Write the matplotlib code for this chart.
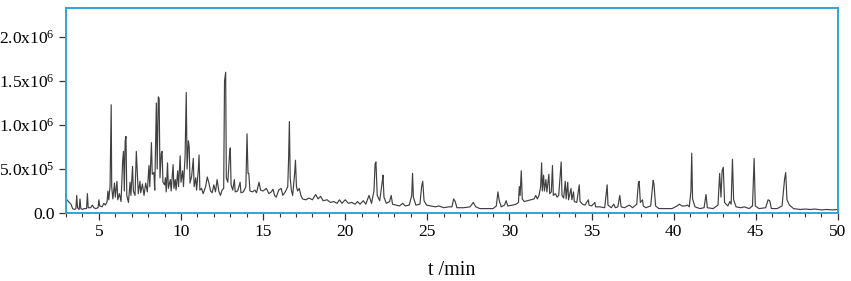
import numpy as np
import matplotlib
matplotlib.use('Agg')
import matplotlib.pyplot as plt

plt.rcParams['font.family'] = ['Liberation Serif', 'DejaVu Serif']
plt.rcParams['mathtext.fontset'] = 'custom'
plt.rcParams['mathtext.rm'] = 'Liberation Serif'
plt.rcParams['mathtext.default'] = 'rm'

# chromatogram trace: (t in min, signal in 1e5 counts)
early = [(3.0,1.6),(3.1,1.4),(3.2,1.2),(3.3,1.0),(3.4,0.5),(3.5,0.4),(3.6,0.5),(3.65,2.0),(3.7,0.6),
         (3.8,0.4),(3.85,1.6),(3.9,0.5),(4.0,0.4),(4.1,0.5),(4.25,0.5),(4.3,2.2),(4.35,0.6),(4.5,0.6),
         (4.6,0.9),(4.7,0.6),(4.8,0.5),(4.95,0.6),(5.0,1.5),(5.05,0.8),(5.2,0.7),(5.3,1.1),(5.4,0.9),
         (5.5,1.3)]

hump = [(5.55,2.5),(5.6,1.5),(5.68,3.0),(5.72,8.0),(5.75,12.3),(5.78,3.0),(5.85,1.6),(5.95,3.4),
        (6.0,1.8),(6.1,3.6),(6.15,1.5),(6.25,2.2),(6.35,1.3),(6.45,6.0),(6.5,7.0),(6.55,2.5),(6.6,8.2),
        (6.65,8.7),(6.7,2.0),(6.8,1.2),(6.9,3.5),(6.95,2.0),(7.05,5.3),(7.1,2.5),(7.2,2.0),(7.28,7.0),
        (7.33,5.0),(7.4,2.2),(7.5,3.6),(7.55,2.3),(7.65,3.3),(7.75,2.0),(7.85,3.4),(7.95,2.4),(8.05,5.4),
        (8.1,3.0),(8.2,8.0),(8.25,4.4),(8.35,4.6),(8.4,2.6),(8.5,12.5),(8.55,5.0),(8.62,13.2),(8.67,13.0),
        (8.72,4.0),(8.8,6.8),(8.85,7.0),(8.9,3.5),(9.0,3.2),(9.05,4.0),(9.1,2.4),(9.18,5.7),(9.23,2.8),
        (9.35,3.8),(9.4,2.5),(9.52,5.5),(9.57,2.8),(9.65,3.8),(9.7,2.6),(9.8,4.8),(9.85,3.0),(9.95,6.5),
        (10.0,3.5),(10.1,4.8),(10.15,3.0),(10.25,6.5),(10.32,13.7),(10.37,5.0),(10.45,8.2),(10.5,7.5),
        (10.55,3.4),(10.65,4.2),(10.75,6.2),(10.8,3.0),(10.9,4.0),(10.95,2.6),(11.05,4.8),(11.1,6.6),
        (11.15,2.6),(11.25,2.8),(11.35,2.2),(11.5,3.0),(11.6,4.1),(11.7,3.4),(11.8,2.5),(11.9,2.3),
        (12.0,3.2),(12.1,2.4),(12.2,3.8),(12.3,2.5),(12.4,2.0),(12.5,2.6),(12.6,2.8),(12.65,15.0),
        (12.72,16.0),(12.76,4.0),(12.85,3.5),(12.95,6.5),(13.0,7.4),(13.05,3.2),(13.15,2.6),(13.25,3.8),
        (13.3,2.4),(13.45,2.5),(13.6,3.5),(13.65,2.3),(13.8,2.4),(13.95,3.0),(14.02,9.0),(14.08,4.5),
        (14.13,4.5),(14.2,2.5),(14.35,2.4),(14.5,2.6),(14.6,2.3),(14.75,3.5),(14.85,2.6),(15.0,2.5),
        (15.2,2.8),(15.35,2.2),(15.5,2.4),(15.6,2.7),(15.7,2.0),(15.8,1.8),(15.95,2.6),(16.1,2.8),
        (16.2,2.0),(16.35,2.4),(16.5,3.0),(16.55,6.0),(16.6,10.4),(16.65,4.0),(16.72,2.6),(16.8,2.0),
        (16.92,4.5),(16.97,6.0),(17.03,3.0),(17.1,2.5),(17.2,2.8),(17.3,2.0)]

middle = [(17.4,1.6),(17.6,1.5),(17.8,1.7),(18.0,1.5),(18.2,2.1),(18.35,1.6),(18.5,1.9),(18.65,1.4),
          (18.9,1.5),(19.1,1.2),(19.3,1.3),(19.5,1.1),(19.65,1.5),(19.8,1.1),(20.0,1.5),(20.2,1.1),
          (20.4,1.2),(20.6,1.0),(20.75,1.3),(20.9,1.0),(21.1,1.4),(21.25,1.0),(21.45,2.0),(21.6,1.1),
          (21.75,2.5),(21.82,5.6),(21.87,5.8),(21.95,2.0),(22.1,1.4),(22.25,3.5),(22.3,4.3),(22.36,1.8),
          (22.5,1.1),(22.7,1.3),(22.8,2.0),(22.88,1.0),(23.1,0.9),(23.3,0.8),(23.5,1.1),(23.65,0.8),
          (23.9,0.9),(24.05,2.0),(24.1,4.5),(24.15,1.8),(24.3,0.9),(24.55,1.0),(24.65,3.0),(24.72,3.6),
          (24.8,1.4),(24.95,0.9),(25.2,0.8),(25.5,0.7),(25.7,0.8),(26.0,0.6),(26.3,0.7),(26.5,0.7),
          (26.6,1.6),(26.7,1.3),(26.8,0.6),(27.2,0.6),(27.6,0.7),(27.8,1.2),(27.95,0.7),(28.2,0.5),
          (28.6,0.5),(29.0,0.5),(29.2,0.8),(29.3,2.4),(29.38,1.4),(29.5,0.7),(29.7,0.9),(29.8,1.4),
          (29.9,0.8),(30.2,0.9),(30.4,1.0),(30.55,1.2),(30.6,3.0),(30.65,2.0),(30.72,4.8),(30.78,1.6),
          (30.9,1.3)]

cluster = [(31.1,1.4),(31.3,1.5),(31.5,1.6),(31.6,2.0),(31.7,1.6),(31.8,2.0),(31.9,3.0),(31.96,5.7),
           (32.0,2.5),(32.08,4.3),(32.13,2.5),(32.22,3.8),(32.28,2.4),(32.4,4.4),(32.45,2.2),(32.55,2.4),
           (32.62,5.4),(32.67,2.0),(32.8,2.2),(32.9,1.8),(33.0,2.0),(33.15,5.8),(33.2,2.0),(33.3,1.7),
           (33.4,3.6),(33.45,1.6),(33.55,3.5),(33.6,1.5),(33.75,2.8),(33.8,1.5),(33.9,2.4),(33.95,1.3),
           (34.1,1.2),(34.25,3.2),(34.3,1.3),(34.45,1.0),(34.6,0.9),(34.8,1.5),(34.85,0.9),(35.0,0.8),
           (35.2,1.2),(35.25,0.7)]

tail = [(35.5,0.7),(35.8,0.6),(35.95,3.2),(36.0,0.9),(36.2,0.6),(36.35,1.0),(36.45,0.6),(36.6,0.7),
        (36.72,2.0),(36.8,0.7),(37.0,0.6),(37.3,0.9),(37.5,0.6),(37.75,1.0),(37.85,3.4),(37.9,3.6),
        (37.97,1.2),(38.1,1.5),(38.15,0.8),(38.3,0.6),(38.6,0.8),(38.75,3.7),(38.8,3.3),(38.9,0.8),
        (39.1,0.5),(39.5,0.5),(39.9,0.5),(40.2,0.8),(40.35,1.0),(40.5,0.8),(40.7,0.8),(40.85,0.9),
        (40.95,0.7),(41.05,2.5),(41.1,6.8),(41.15,1.6),(41.3,0.7),(41.6,0.5),(41.85,0.6),(41.97,2.1),
        (42.05,0.6),(42.4,0.5),(42.7,0.9),(42.8,4.5),(42.88,1.8),(42.95,4.8),(43.02,5.2),(43.1,1.2),
        (43.3,0.8),(43.42,1.3),(43.5,1.0),(43.58,6.1),(43.65,1.5),(43.8,0.7),(44.1,0.6),(44.3,0.7),
        (44.6,0.5),(44.8,0.8),(44.9,6.2),(44.97,0.8),(45.2,0.5),(45.6,0.6),(45.75,1.5),(45.85,1.4),
        (45.95,0.5),(46.3,0.5),(46.6,0.8),(46.75,3.8),(46.82,4.6),(46.9,1.5),(47.05,0.9),(47.3,0.5),
        (47.7,0.4),(48.0,0.45),(48.3,0.4),(48.6,0.45),(49.0,0.35),(49.3,0.4),(49.7,0.35),(50.0,0.4)]

y_ticks = [0, 5e5, 1e6, 1.5e6, 2e6]
y_labels = ['0.0', '5.0x10$^{5}$', '1.0x10$^{6}$', '1.5x10$^{6}$', '2.0x10$^{6}$']
x_ticks = [5, 10, 15, 20, 25, 30, 35, 40, 45, 50]

trace = np.array(early + hump + middle + cluster + tail)
t = trace[:, 0]
sig = trace[:, 1] * 1e5

cyan = '#2ba6dc'

fig = plt.figure(figsize=(8.51, 2.81), dpi=100)
ax = fig.add_axes([0.0776, 0.242, 0.907, 0.7295])
ax.plot(t, sig, color='#404040', lw=0.85)

ax.set_xlim(3, 50)
ax.set_ylim(0, 2.33e6)
ax.set_xticks(x_ticks)
ax.set_xticks(np.arange(3, 51, 1), minor=True)
ax.set_yticks(y_ticks)
ax.set_yticklabels(y_labels)
ax.tick_params(axis='both', which='major', labelsize=12.5, direction='out', length=5,
               width=0.9, color='#333333', pad=3)
ax.tick_params(axis='x', which='minor', direction='out', length=3, width=0.8, color='#333333')
ax.set_xlabel('t /min', fontsize=14.5, labelpad=15)
for s in ax.spines.values():
    s.set_color(cyan)
    s.set_linewidth(1.4)

plt.savefig('out.png', dpi=100)
